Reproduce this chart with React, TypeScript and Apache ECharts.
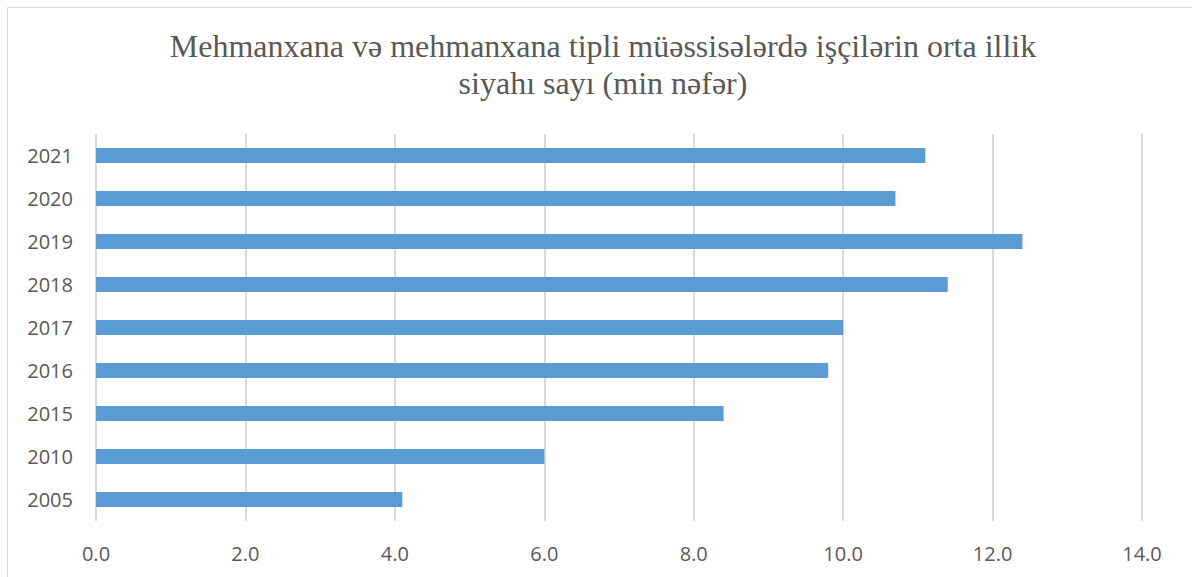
import React, { useEffect, useRef } from "react";
import * as echarts from "echarts";

const titleText = "Mehmanxana və mehmanxana tipli müəssisələrdə işçilərin orta illik\nsiyahı sayı (min nəfər)";
const years = ["2005", "2010", "2015", "2016", "2017", "2018", "2019", "2020", "2021"];
const workers = [4.1, 6.0, 8.4, 9.8, 10.0, 11.4, 12.4, 10.7, 11.1];
const axisMin = 0;
const axisMax = 14;
const axisStep = 2;

export default function App() {
  const ref = useRef<HTMLDivElement>(null);
  useEffect(() => {
    if (!ref.current) return;
    const chart = echarts.init(ref.current, undefined, { renderer: "svg" });
    chart.setOption({
      animation: false,
      backgroundColor: "#ffffff",
      title: {
        text: titleText,
        left: 598,
        top: 22,
        textAlign: "center",
        textStyle: {
          fontFamily: "Liberation Serif",
          fontSize: 32,
          fontWeight: "normal",
          color: "#595959",
          lineHeight: 37,
        },
      },
      graphic: [
        {
          type: "rect",
          shape: { x: 7.5, y: 7.5, width: 1200, height: 600 },
          style: { fill: "none", stroke: "#D9D9D9", lineWidth: 1 },
          silent: true,
        },
      ],
      grid: { left: 96, right: 50, top: 134, bottom: 56, containLabel: false },
      xAxis: {
        type: "value",
        min: axisMin,
        max: axisMax,
        interval: axisStep,
        axisLine: { show: false },
        axisTick: { show: false },
        axisLabel: {
          formatter: (v: number) => v.toFixed(1),
          fontFamily: "Open Sans",
          fontSize: 20,
          color: "#595959",
          margin: 22,
        },
        splitLine: { show: true, lineStyle: { color: "#D9D9D9", width: 2 } },
      },
      yAxis: {
        type: "category",
        data: years,
        axisLine: { show: false },
        axisTick: { show: false },
        axisLabel: {
          fontFamily: "Open Sans",
          fontSize: 20,
          color: "#595959",
          margin: 23,
        },
        splitLine: { show: false },
      },
      series: [
        {
          type: "bar",
          data: workers,
          barWidth: 15,
          itemStyle: { color: "#5B9BD5" },
        },
      ],
    });
    return () => chart.dispose();
  }, []);
  return (
    <div
      ref={ref}
      style={{ position: "fixed", left: 0, top: 0, width: 1192, height: 577 }}
    />
  );
}
